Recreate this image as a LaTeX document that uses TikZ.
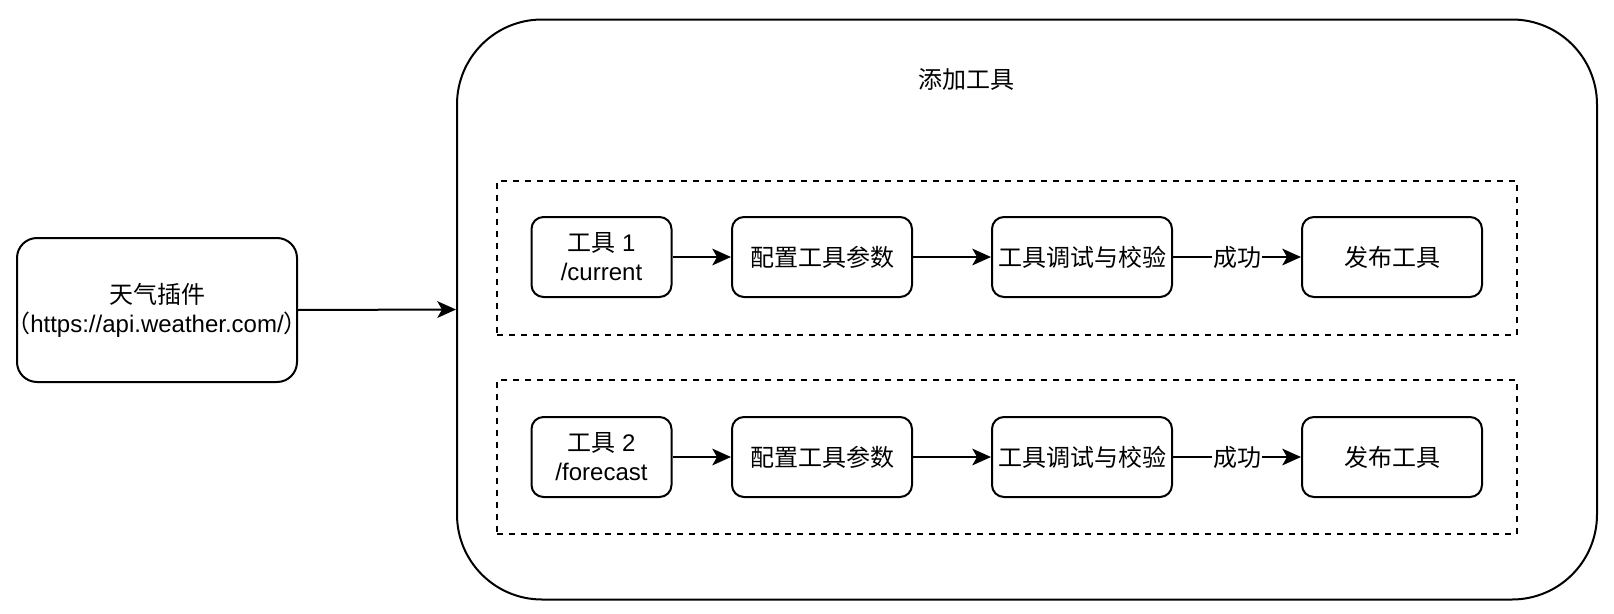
\documentclass[tikz,border=0pt]{standalone}
\usepackage{fontspec}
\setmainfont{Liberation Sans}
\newfontfamily\cjk{Noto Sans CJK SC}
\usetikzlibrary{arrows.meta}

\tikzset{
  base/.style={font=\fontsize{18pt}{21.75pt}\selectfont, text=black, align=center, inner sep=0pt},
  stepbox/.style={base, draw, line width=1.5pt, rounded corners=9pt, minimum width=135pt, minimum height=60pt},
  toolbox/.style={stepbox, minimum width=105pt},
  pluginbox/.style={base, draw, line width=1.5pt, rounded corners=15pt, minimum width=210pt, minimum height=108pt},
  frame/.style={draw, line width=1.5pt, rounded corners=63.75pt, minimum width=855pt, minimum height=435pt, inner sep=0pt},
  group/.style={draw, line width=1.5pt, dash pattern=on 4.5pt off 4.5pt, minimum width=765pt, minimum height=115.5pt, inner sep=0pt},
  flow/.style={line width=1.5pt, -{Stealth[length=14pt, width=12.5pt, inset=3.5pt]}},
  tag/.style={base, fill=white, inner sep=1pt}
}

\begin{document}
\begin{tikzpicture}[x=0.75pt, y=-0.75pt]
  \useasboundingbox (0,0) rectangle (1614,614);

  % outer container and its title
  \node[frame] (panel) at (1027,309.5) {};
  \node[base] (title) at (966,79) {\cjk 添加工具};

  % plugin source (the URL line is allowed to run past the border)
  \node[pluginbox] (plugin) at (157,310)
    {{\cjk 天气插件}\\\makebox[0pt]{{\cjk （}https://api.weather.com/{\cjk ）}}};

  % two tool groups
  \node[group] (g1) at (1007,258) {};
  \node[group] (g2) at (1007,457) {};

  % first tool pipeline
  \node[toolbox] (t1) at (601.5,257) {{\cjk 工具} 1\\/current};
  \node[stepbox] (c1) at (822,257) {\cjk 配置工具参数};
  \node[stepbox] (d1) at (1082,257) {\cjk 工具调试与校验};
  \node[stepbox] (p1) at (1392,257) {\cjk 发布工具};

  % second tool pipeline
  \node[toolbox] (t2) at (601.5,457) {{\cjk 工具} 2\\/forecast};
  \node[stepbox] (c2) at (822,457) {\cjk 配置工具参数};
  \node[stepbox] (d2) at (1082,457) {\cjk 工具调试与校验};
  \node[stepbox] (p2) at (1392,457) {\cjk 发布工具};

  % connectors
  \draw[flow] (plugin.east) -- (panel.west);

  \draw[flow] (t1) -- (c1);
  \draw[flow] (c1) -- (d1);
  \draw[flow] (d1) -- node[tag] (ok1) {\cjk 成功} (p1);

  \draw[flow] (t2) -- (c2);
  \draw[flow] (c2) -- (d2);
  \draw[flow] (d2) -- node[tag] (ok2) {\cjk 成功} (p2);
\end{tikzpicture}
\end{document}
